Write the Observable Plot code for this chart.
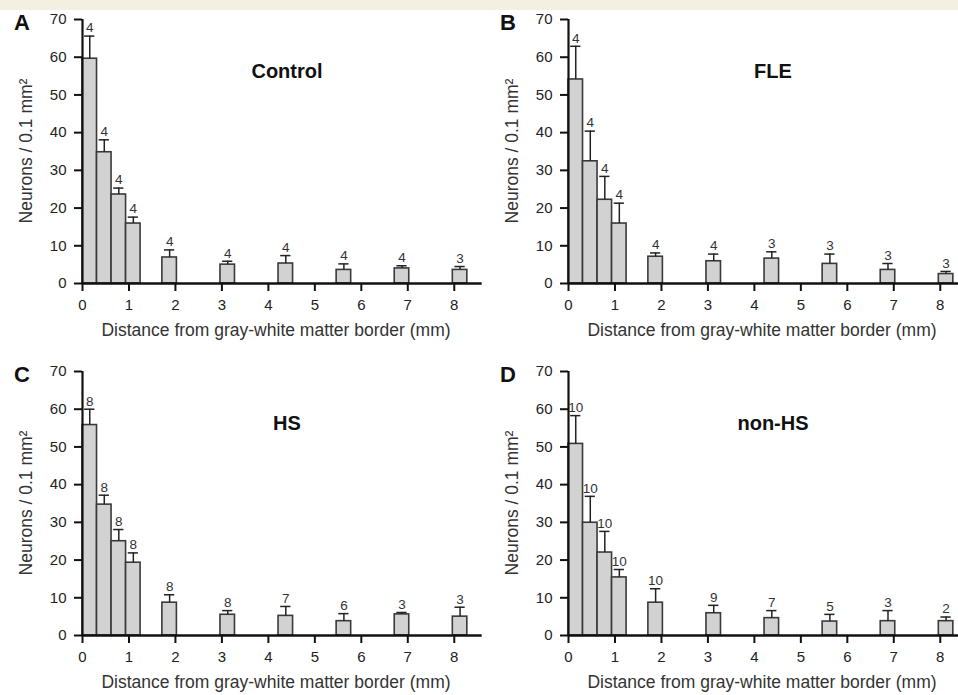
<!DOCTYPE html>
<html><head><meta charset="utf-8">
<script src="https://cdn.jsdelivr.net/npm/d3@7"></script>
<script src="https://cdn.jsdelivr.net/npm/@observablehq/plot@0.6"></script>
<style>
body{margin:0;background:#fff;font-family:"Liberation Sans",Arial,sans-serif;}
#wrap{position:relative;width:958px;height:695px;overflow:hidden;background:#fff;}
#band{position:absolute;left:0;top:0;width:958px;height:10px;background:#f3f0e2;}
.p{position:absolute;width:479px;height:345px;}
.p svg{max-width:none !important;}
.lbl{position:absolute;transform:translate(-50%,-50%);white-space:nowrap;color:#222;line-height:1;}
.letter{font-weight:bold;font-size:22px;color:#111;}
.title{font-weight:bold;font-size:20px;color:#111;}
.ax{font-size:17.5px;color:#333;}
.ylab{transform:translate(-50%,-50%) rotate(-90deg);}
</style></head><body><div id="wrap"><div id="band"></div></div>
<script>
// bin centres (mm)
const distance = [0.15625, 0.46875, 0.78125, 1.09375, 1.875, 3.125, 4.375, 5.625, 6.875, 8.125];
const yTicks = [0, 10, 20, 30, 40, 50, 60, 70];
const xTicks = [0, 1, 2, 3, 4, 5, 6, 7, 8];

const controlMean  = [59.6, 34.8, 23.6, 15.9, 6.9, 5.0, 5.3, 3.6, 4.0, 3.6];
const controlUpper = [65.6, 38.1, 25.3, 17.6, 8.9, 5.9, 7.4, 5.2, 4.7, 4.5];
const controlN     = [4, 4, 4, 4, 4, 4, 4, 4, 4, 3];

const fleMean  = [54.1, 32.4, 22.2, 15.9, 7.1, 5.9, 6.6, 5.2, 3.6, 2.5];
const fleUpper = [62.9, 40.4, 28.4, 21.3, 8.1, 7.8, 8.4, 7.8, 5.3, 3.2];
const fleN     = [4, 4, 4, 4, 4, 4, 3, 3, 3, 3];

const hsMean  = [55.8, 34.7, 25.0, 19.3, 8.7, 5.5, 5.2, 3.8, 5.6, 5.0];
const hsUpper = [60.0, 37.2, 28.1, 21.9, 10.8, 6.6, 7.7, 5.8, 6.1, 7.5];
const hsN     = [8, 8, 8, 8, 8, 8, 7, 6, 3, 3];

const nonhsMean  = [50.8, 29.9, 22.0, 15.4, 8.7, 5.9, 4.6, 3.7, 3.8, 3.8];
const nonhsUpper = [58.3, 36.9, 27.6, 17.5, 12.4, 8.0, 6.6, 5.6, 6.6, 4.9];
const nonhsN     = [10, 10, 10, 10, 10, 9, 7, 5, 3, 2];

const titles  = ["Control", "FLE", "HS", "non-HS"];
const letters = ["A", "B", "C", "D"];
const yLabel = "Neurons / 0.1 mm\u00B2";
const xLabel = "Distance from gray-white matter border (mm)";

const binWidth = 0.3125;
const capHalf = 0.11;
const font = "'Liberation Sans', Arial, sans-serif";

function panel(mean, upper, n) {
  const data = distance.map((x, i) => ({x, mean: mean[i], upper: upper[i], n: String(n[i])}));
  return Plot.plot({
    width: 479, height: 345,
    marginLeft: 82, marginRight: 2, marginTop: 19, marginBottom: 62,
    x: {domain: [0, 8.5]},
    y: {domain: [0, 70]},
    style: {fontFamily: font, fontSize: "15px", color: "#222", background: "transparent", overflow: "visible", maxWidth: "none"},
    marks: [
      Plot.rectY(data, {x1: d => d.x - binWidth / 2, x2: d => d.x + binWidth / 2, y: "mean",
        fill: "#d2d2d2", stroke: "#3a3a3a", strokeWidth: 1.6}),
      Plot.ruleX(data, {x: "x", y1: "mean", y2: "upper", stroke: "#222", strokeWidth: 1.5}),
      Plot.ruleY(data, {y: "upper", x1: d => d.x - capHalf, x2: d => d.x + capHalf, stroke: "#222", strokeWidth: 1.5}),
      Plot.text(data, {x: "x", y: "upper", text: "n", dy: -8, fontSize: 13.5, fill: "#333"}),
      Plot.ruleX([0], {y1: 0, y2: d3.max(yTicks), stroke: "#111", strokeWidth: 2.2}),
      Plot.ruleY([0], {x1: 0, x2: 8.6, stroke: "#111", strokeWidth: 2.5}),
      Plot.axisY({ticks: yTicks, tickSize: 8, tickPadding: 8, strokeWidth: 2, stroke: "#111", fill: "#222", fontSize: 15, label: null}),
      Plot.axisX({ticks: xTicks, tickSize: 8, tickPadding: 8, strokeWidth: 2, stroke: "#111", fill: "#222", fontSize: 15, label: null})
    ]
  });
}

const wrap = document.getElementById("wrap");
const panels = [
  {mean: controlMean, upper: controlUpper, n: controlN, left: 0, top: 0},
  {mean: fleMean, upper: fleUpper, n: fleN, left: 486, top: 0},
  {mean: hsMean, upper: hsUpper, n: hsN, left: 0, top: 352},
  {mean: nonhsMean, upper: nonhsUpper, n: nonhsN, left: 486, top: 352}
];
panels.forEach((p, i) => {
  const holder = document.createElement("div");
  holder.className = "p";
  holder.style.left = p.left + "px";
  holder.style.top = p.top + "px";
  holder.appendChild(panel(p.mean, p.upper, p.n));
  wrap.appendChild(holder);
  const add = (cls, text, x, y) => {
    const d = document.createElement("div");
    d.className = "lbl " + cls;
    d.textContent = text;
    d.style.left = (p.left + x) + "px";
    d.style.top = (p.top + y) + "px";
    wrap.appendChild(d);
  };
  add("letter", letters[i], 22, 23);
  add("title", titles[i], 287, 71);
  add("ax ylab", yLabel, 27, 151);
  add("ax", xLabel, 276, 331);
});
</script></body></html>
